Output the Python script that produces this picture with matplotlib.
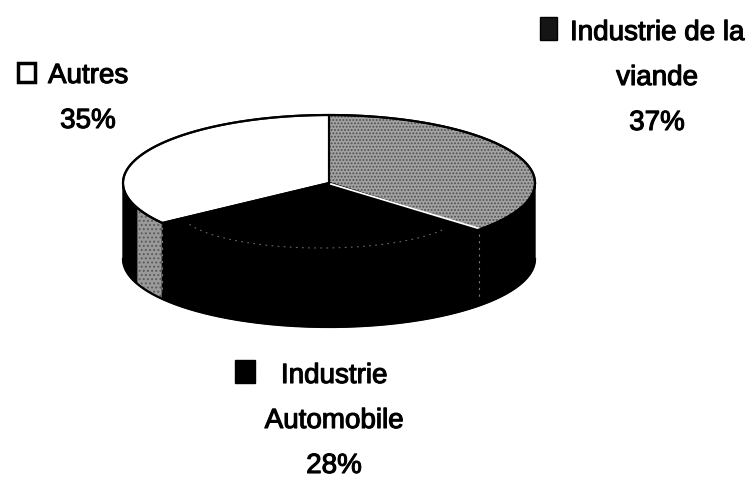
import matplotlib
matplotlib.use('Agg')
import matplotlib.pyplot as plt
import matplotlib.patheffects as pe
from matplotlib.patches import Polygon, Rectangle
import numpy as np

plt.rcParams['font.family'] = ['Liberation Sans', 'DejaVu Sans']
plt.rcParams['hatch.linewidth'] = 0.9

# ---- data ----
categories = ['Industrie de la\nviande', 'Industrie\nAutomobile', 'Autres']
shares = [37, 28, 35]
pct_labels = ['37%', '28%', '35%']

# ---- style ----
top_colors = ['#a2a2a2', '#000000', '#ffffff']
top_hatch = ['.....', None, None]
hatch_colors = ['#4f4f4f', 'black', 'black']
wall_colors = ['#000000', '#000000', '#9a9a9a']
legend_fill = ['#151515', '#000000', '#ffffff']
cx, cy, rx, ry, depth = 329, 183, 206, 68, 76
label_x = [657, 334, 88]
label_base = [40, 383, 83]
line_gap = [45, 45, 45]
square_xy = [(540, 17), (235, 360), (18, 63)]
square_wh = [(17, 23), (20, 23), (17, 19)]
wall_light_from = -159

fig = plt.figure(figsize=(7.48, 4.79), dpi=100)
ax = fig.add_axes([0, 0, 1, 1])
ax.set_xlim(0, 748)
ax.set_ylim(479, 0)
ax.axis('off')


def pts(theta_deg, dz=0.0):
    t = np.radians(theta_deg)
    return np.column_stack([cx + rx * np.cos(t), cy - ry * np.sin(t) + dz])


bounds = 90 - 3.6 * np.concatenate([[0], np.cumsum(shares)])

# walls (front half: theta in [-180, 0])
for i in range(len(shares)):
    a, b = bounds[i], bounds[i + 1]
    for shift in (0, 360, -360):
        lo = max(b + shift, -180)
        hi = min(a + shift, 0)
        if hi <= lo:
            continue
        segs = [(lo, hi, wall_colors[i])]
        if wall_colors[i] != '#000000' and lo < wall_light_from < hi:
            segs = [(lo, wall_light_from, '#000000'), (wall_light_from, hi, wall_colors[i])]
        for l, h, c in segs:
            th = np.linspace(l, h, 120)
            poly = np.vstack([pts(th), pts(th[::-1], depth)])
            ax.add_patch(Polygon(poly, closed=True, facecolor=c, edgecolor='black', lw=1.0, zorder=1))
            if c != '#000000':
                ax.add_patch(Polygon(poly, closed=True, facecolor='none', hatch='....',
                                     edgecolor='#5a5a5a', lw=0, zorder=1.5))
        if -180 < b + shift < 0:
            p = pts([b + shift])[0]
            ax.plot([p[0], p[0]], [p[1] + 4, p[1] + depth - 6], color='#7a7a7a', lw=0.8,
                    ls=(0, (2, 4)), zorder=2)

# top faces
for i in range(len(shares)):
    a, b = bounds[i], bounds[i + 1]
    th = np.linspace(a, b, 200)
    poly = np.vstack([[cx, cy], pts(th)])
    ax.add_patch(Polygon(poly, closed=True, facecolor=top_colors[i],
                         edgecolor='none', lw=0, zorder=3))
    if top_hatch[i]:
        ax.add_patch(Polygon(poly, closed=True, facecolor='none', hatch=top_hatch[i],
                             edgecolor=hatch_colors[i], lw=0, zorder=3.5))
    ax.add_patch(Polygon(poly, closed=True, facecolor='none',
                         edgecolor='black', lw=1.5, zorder=4))

# white edge along the grey slice's lower radius
p_end = pts([bounds[1]])[0]
ax.plot([cx + 2, p_end[0]], [cy + 1, p_end[1] - 1], color='white', lw=1.3, zorder=5)

# faint dotted inner arc (scan artefact of the original)
th = np.linspace(-160, -30, 120)
t = np.radians(th)
ax.plot(cx - 8 + 140 * np.cos(t), 212 - 36 * np.sin(t), color='#6a6a6a', lw=0.8,
        ls=(0, (1.5, 4)), zorder=5)

# outline of top ellipse and bottom rim
th = np.linspace(0, 360, 400)
e = pts(th)
ax.plot(e[:, 0], e[:, 1], color='black', lw=1.6, zorder=5)
th = np.linspace(-180, 0, 200)
e = pts(th, depth)
ax.plot(e[:, 0], e[:, 1], color='black', lw=1.6, zorder=5)

# labels
stroke = [pe.withStroke(linewidth=0.8, foreground='black')]
for i in range(len(shares)):
    lines = categories[i].split('\n') + [pct_labels[i]]
    for k, line in enumerate(lines):
        ax.text(label_x[i], label_base[i] + k * line_gap[i], line, ha='center',
                va='baseline', fontsize=20, color='black', zorder=6, path_effects=stroke)
    x0, y0 = square_xy[i]
    w, h = square_wh[i]
    ax.add_patch(Rectangle((x0, y0), w, h, facecolor=legend_fill[i],
                           edgecolor='black', lw=2.5 if legend_fill[i] == '#ffffff' else 1,
                           zorder=6))

fig.savefig('out.png', dpi=100, facecolor='white')
